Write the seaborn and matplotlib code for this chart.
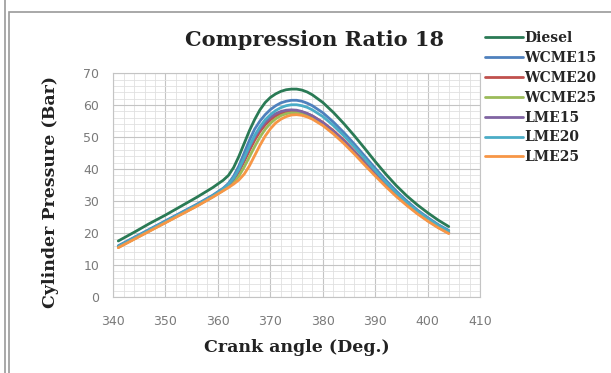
import numpy as np
import pandas as pd
import matplotlib
matplotlib.use("Agg")
import matplotlib.pyplot as plt
import seaborn as sns
from matplotlib.patches import Rectangle
from matplotlib.lines import Line2D
from matplotlib.ticker import MultipleLocator

# Crank angle (deg) at which the pressure was sampled
crank_angle = [341, 344, 347, 350, 353, 356, 359, 361, 362, 363, 364, 365, 366,
               367, 368, 369, 370, 371, 372, 373, 374, 375, 376, 377, 378, 380,
               382, 384, 386, 388, 390, 392, 394, 396, 398, 400, 402, 404]

# Cylinder pressure (bar) for each fuel
diesel = [17.5, 20.2, 23.0, 25.6, 28.4, 31.2, 34.2, 36.5, 38.0, 40.5, 44.0, 48.0, 52.0,
          55.5, 58.5, 60.8, 62.4, 63.5, 64.3, 64.8, 65.0, 65.0, 64.7, 64.1, 63.2, 60.8,
          57.7, 54.2, 50.4, 46.4, 42.3, 38.4, 34.8, 31.6, 28.8, 26.3, 24.0, 22.0]
wcme15 = [16.0, 18.6, 21.2, 23.8, 26.4, 29.0, 31.8, 34.0, 35.5, 37.8, 41.0, 45.0, 49.0,
          52.5, 55.0, 57.0, 58.6, 59.8, 60.7, 61.2, 61.5, 61.5, 61.2, 60.6, 59.8, 57.6,
          54.7, 51.4, 47.8, 44.0, 40.2, 36.5, 33.1, 30.0, 27.2, 24.8, 22.6, 20.8]
wcme20 = [15.6, 18.2, 20.8, 23.4, 26.0, 28.6, 31.4, 33.5, 34.8, 36.6, 39.2, 42.4, 45.8,
          49.0, 51.7, 53.8, 55.4, 56.6, 57.4, 57.9, 58.1, 58.1, 57.8, 57.3, 56.6, 54.6,
          52.0, 49.0, 45.6, 42.1, 38.6, 35.2, 32.0, 29.1, 26.5, 24.1, 22.0, 20.2]
wcme25 = [15.5, 18.1, 20.7, 23.3, 25.9, 28.5, 31.3, 33.3, 34.4, 35.8, 37.8, 40.6, 43.8,
          47.0, 50.0, 52.4, 54.3, 55.7, 56.7, 57.3, 57.6, 57.6, 57.3, 56.8, 56.1, 54.1,
          51.5, 48.5, 45.2, 41.7, 38.2, 34.9, 31.8, 28.9, 26.3, 24.0, 21.9, 20.1]
lme15 = [15.7, 18.3, 20.9, 23.5, 26.1, 28.7, 31.5, 33.6, 35.0, 37.0, 39.8, 43.2, 46.8,
         50.0, 52.6, 54.6, 56.2, 57.3, 58.0, 58.4, 58.5, 58.4, 58.0, 57.4, 56.6, 54.5,
         51.8, 48.7, 45.3, 41.8, 38.3, 34.9, 31.8, 28.9, 26.3, 23.9, 21.8, 20.0]
lme20 = [15.8, 18.4, 21.0, 23.6, 26.2, 28.8, 31.6, 33.8, 35.2, 37.2, 40.0, 43.5, 47.2,
         50.5, 53.2, 55.4, 57.0, 58.3, 59.2, 59.8, 60.1, 60.1, 59.8, 59.3, 58.5, 56.4,
         53.6, 50.4, 46.9, 43.2, 39.5, 35.9, 32.6, 29.6, 26.9, 24.5, 22.4, 20.6]
lme25 = [15.4, 18.0, 20.6, 23.2, 25.8, 28.4, 31.2, 33.2, 34.2, 35.3, 36.6, 38.4, 41.0,
         44.2, 47.4, 50.3, 52.6, 54.4, 55.6, 56.4, 56.9, 57.0, 56.8, 56.3, 55.6, 53.6,
         51.0, 48.0, 44.7, 41.2, 37.8, 34.5, 31.4, 28.6, 26.0, 23.7, 21.6, 19.8]

fuels = ["Diesel", "WCME15", "WCME20", "WCME25", "LME15", "LME20", "LME25"]
series = [diesel, wcme15, wcme20, wcme25, lme15, lme20, lme25]
colors = ["#2a7a55", "#4f81bd", "#c0504d", "#9bbb59", "#8064a2", "#4bacc6", "#f79646"]

x_ticks = [340, 350, 360, 370, 380, 390, 400, 410]
y_ticks = [0, 10, 20, 30, 40, 50, 60, 70]

df = pd.DataFrame({
    "angle": np.tile(crank_angle, len(fuels)),
    "pressure": np.concatenate(series),
    "fuel": np.repeat(fuels, len(crank_angle)),
})

sns.set_theme(style="white")
plt.rcParams["font.family"] = ["DejaVu Sans"]

fig = plt.figure(figsize=(6.11, 3.73), dpi=100)
ax = fig.add_axes([0.185, 0.204, 0.601, 0.600])

sns.lineplot(data=df, x="angle", y="pressure", hue="fuel", hue_order=fuels,
             palette=dict(zip(fuels, colors)), linewidth=2.0, legend=False,
             sort=False, estimator=None, ax=ax, zorder=3)

ax.set_xlim(340, 410)
ax.set_ylim(0, 70)
ax.set_xticks(x_ticks)
ax.set_yticks(y_ticks)
ax.xaxis.set_minor_locator(MultipleLocator(2))
ax.yaxis.set_minor_locator(MultipleLocator(2))
ax.grid(which="major", color="#c4c4c4", linewidth=0.8)
ax.grid(which="minor", color="#e0e0e0", linewidth=0.6)
ax.set_axisbelow(True)
ax.tick_params(which="both", length=0, labelsize=9, colors="#7a7a7a")
ax.tick_params(axis="x", pad=13)
ax.tick_params(axis="y", pad=10)
for sp in ax.spines.values():
    sp.set_color("#c4c4c4")
    sp.set_linewidth(0.8)

ax.set_xlabel("Crank angle (Deg.)", family="DejaVu Serif", fontweight="bold",
              fontsize=12.5, color="#222222", labelpad=8)
ax.set_ylabel("Cylinder Pressure (Bar)", family="DejaVu Serif", fontweight="bold",
              fontsize=12.5, color="#222222")
ax.yaxis.set_label_coords(-0.147, 0.47)
fig.text(0.514, 0.892, "Compression Ratio 18", family="DejaVu Serif",
         fontweight="bold", fontsize=15, color="#222222", ha="center", va="center")

handles = [Line2D([0], [0], color=c, linewidth=2.0) for c in colors]
fig.legend(handles, fuels, loc="upper left", bbox_to_anchor=(0.785, 0.931),
           frameon=False, handlelength=2.7, handletextpad=0.1, labelspacing=0.42,
           borderaxespad=0.0,
           prop={"family": "DejaVu Serif", "weight": "bold", "size": 10})

# outer frame
fig.add_artist(Rectangle((9 / 611, -0.05), 1.0, 1 - 12 / 373 + 0.05,
                         transform=fig.transFigure, fill=False,
                         edgecolor="#9a9a9a", linewidth=1.2))
fig.add_artist(Line2D([4.5 / 611, 4.5 / 611], [0, 1], transform=fig.transFigure,
                      color="#9a9a9a", linewidth=1.2))

fig.savefig("out.png", dpi=100)
